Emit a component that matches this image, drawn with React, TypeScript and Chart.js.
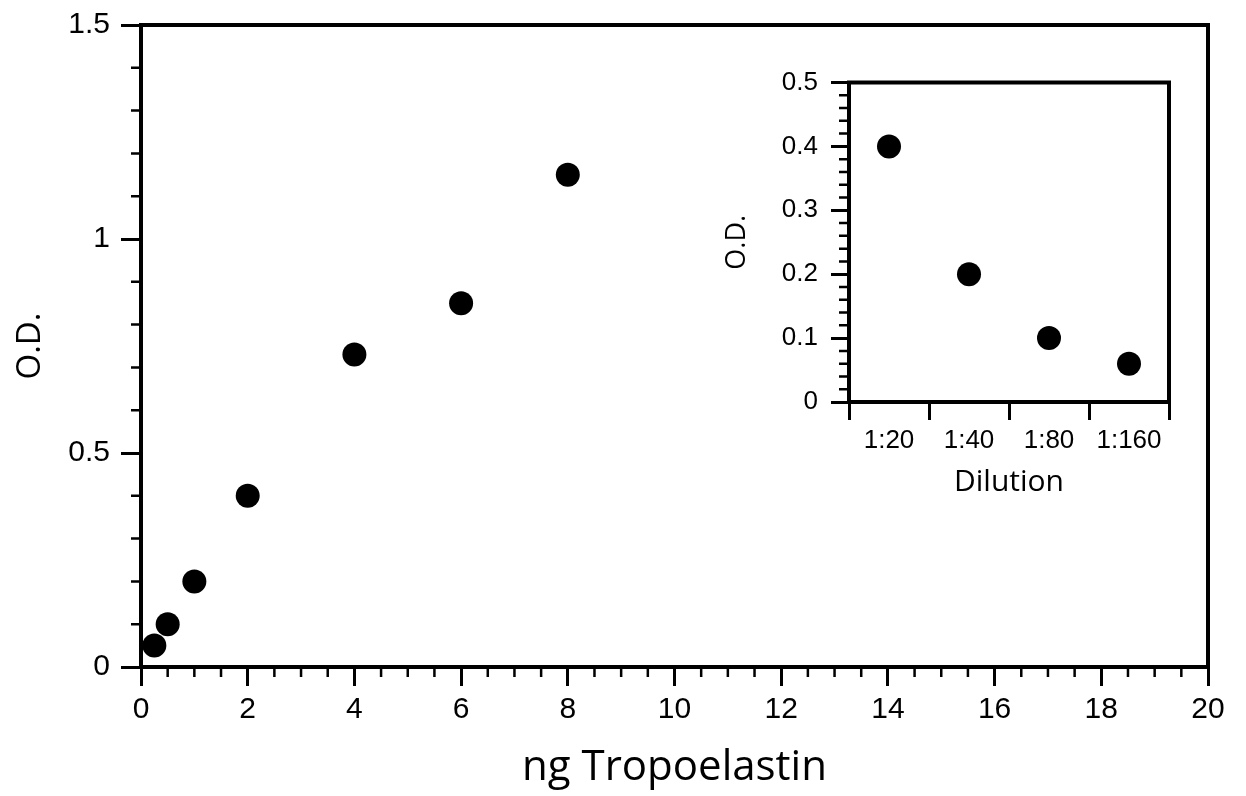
import React, { useEffect, useRef } from 'react';
import { Chart, registerables } from 'chart.js';

Chart.register(...registerables);

// ---- Data ----
const tropoelastinNg = [0.25, 0.5, 1, 2, 4, 6, 8];
const mainOD = [0.05, 0.1, 0.2, 0.4, 0.73, 0.85, 1.15];

const dilutionLabels = ['1:20', '1:40', '1:80', '1:160'];
const insetOD = [0.4, 0.2, 0.1, 0.06];

const mainXRange = [0, 20];
const mainXMajorStep = 2;
const mainXMinorStep = 0.5;
const mainYRange = [0, 1.5];
const mainYMajorStep = 0.5;
const mainYMinorStep = 0.1;

const insetYRange = [0, 0.5];
const insetYMajorStep = 0.1;
const insetYMinorStep = 0.02;

const TICK_FONT = 'Liberation Sans';
const TITLE_FONT = 'Open Sans';

function minorValues(min: number, max: number, minor: number, major: number): number[] {
  const out: number[] = [];
  const n = Math.round((max - min) / minor);
  for (let i = 0; i <= n; i++) {
    const v = min + i * minor;
    const r = v / major;
    if (Math.abs(r - Math.round(r)) > 1e-6) out.push(v);
  }
  return out;
}

const plainNumber = (v: any) => String(Number(Number(v).toFixed(3)));

type MinorCfg = { axis: 'x' | 'y'; values: number[]; len: number; width: number };

function makeFramePlugin(id: string, minors: MinorCfg[], frameWidth: number) {
  return {
    id,
    afterDraw(chart: any) {
      const ctx = chart.ctx as CanvasRenderingContext2D;
      const area = chart.chartArea;
      ctx.save();
      ctx.strokeStyle = '#000';
      ctx.lineCap = 'butt';
      for (const m of minors) {
        const scale = chart.scales[m.axis];
        ctx.lineWidth = m.width;
        ctx.beginPath();
        for (const v of m.values) {
          const p = scale.getPixelForValue(v);
          if (m.axis === 'x') {
            ctx.moveTo(p, area.bottom);
            ctx.lineTo(p, area.bottom + m.len);
          } else {
            ctx.moveTo(area.left, p);
            ctx.lineTo(area.left - m.len, p);
          }
        }
        ctx.stroke();
      }
      ctx.lineWidth = frameWidth;
      ctx.lineJoin = 'miter';
      ctx.strokeRect(area.left, area.top, area.right - area.left, area.bottom - area.top);
      ctx.restore();
    },
  };
}

export default function App() {
  const mainRef = useRef<HTMLCanvasElement | null>(null);
  const insetRef = useRef<HTMLCanvasElement | null>(null);

  useEffect(() => {
    if (!mainRef.current || !insetRef.current) return;

    const mainChart = new Chart(mainRef.current, {
      type: 'scatter',
      data: {
        datasets: [
          {
            data: tropoelastinNg.map((x, i) => ({ x, y: mainOD[i] })),
            backgroundColor: '#000',
            borderColor: '#000',
            pointRadius: 12,
            pointHoverRadius: 12,
            pointBorderWidth: 0,
          },
        ],
      },
      options: {
        responsive: false,
        animation: false,
        layout: { autoPadding: false, padding: { top: 25, right: 38, left: 0, bottom: 0 } },
        plugins: { legend: { display: false }, tooltip: { enabled: false } },
        scales: {
          x: {
            type: 'linear',
            min: mainXRange[0],
            max: mainXRange[1],
            ticks: {
              stepSize: mainXMajorStep,
              font: { family: TICK_FONT, size: 30 },
              color: '#000',
              padding: 6,
              maxRotation: 0,
              callback: plainNumber,
            },
            grid: { drawOnChartArea: false, drawTicks: true, tickLength: 19, tickWidth: 3, tickColor: '#000' },
            border: { display: true, color: '#000', width: 4 },
            title: {
              display: true,
              text: 'ng Tropoelastin',
              font: { family: TITLE_FONT, size: 42 },
              color: '#000',
              padding: { top: 0, bottom: 3 },
            },
            afterFit: (s: any) => {
              s.height = 129;
              s.paddingLeft = 0;
              s.paddingRight = 0;
            },
          },
          y: {
            type: 'linear',
            min: mainYRange[0],
            max: mainYRange[1],
            ticks: {
              stepSize: mainYMajorStep,
              font: { family: TICK_FONT, size: 30 },
              color: '#000',
              padding: 11,
              callback: plainNumber,
            },
            grid: { drawOnChartArea: false, drawTicks: true, tickLength: 20, tickWidth: 3, tickColor: '#000' },
            border: { display: true, color: '#000', width: 4 },
            title: {
              display: true,
              text: 'O.D.',
              font: { family: TITLE_FONT, size: 33 },
              color: '#000',
              padding: { top: 11, bottom: 0 },
            },
            afterFit: (s: any) => {
              s.width = 141;
              s.paddingTop = 0;
              s.paddingBottom = 0;
            },
          },
        },
      },
      plugins: [
        makeFramePlugin(
          'mainFrame',
          [
            { axis: 'x', values: minorValues(mainXRange[0], mainXRange[1], mainXMinorStep, mainXMajorStep), len: 10, width: 2.5 },
            { axis: 'y', values: minorValues(mainYRange[0], mainYRange[1], mainYMinorStep, mainYMajorStep), len: 10, width: 2.5 },
          ],
          4
        ),
      ],
    } as any);

    const insetChart = new Chart(insetRef.current, {
      type: 'line',
      data: {
        labels: dilutionLabels,
        datasets: [
          {
            data: insetOD,
            showLine: false,
            backgroundColor: '#000',
            borderColor: '#000',
            pointRadius: 12,
            pointHoverRadius: 12,
            pointBorderWidth: 0,
          },
        ],
      },
      options: {
        responsive: false,
        animation: false,
        layout: { autoPadding: false, padding: { top: 22.5, right: 31, left: 0, bottom: 0 } },
        plugins: { legend: { display: false }, tooltip: { enabled: false } },
        scales: {
          x: {
            type: 'category',
            offset: true,
            ticks: {
              font: { family: TICK_FONT, size: 26 },
              color: '#000',
              padding: 5,
              maxRotation: 0,
              autoSkip: false,
            },
            grid: { offset: true, drawOnChartArea: false, drawTicks: true, tickLength: 18, tickWidth: 3, tickColor: '#000' },
            border: { display: true, color: '#000', width: 4 },
            title: {
              display: true,
              text: 'Dilution',
              font: { family: TITLE_FONT, size: 30 },
              color: '#000',
              padding: { top: 0, bottom: 0 },
            },
            afterFit: (s: any) => {
              s.height = 98;
              s.paddingLeft = 0;
              s.paddingRight = 0;
            },
          },
          y: {
            type: 'linear',
            min: insetYRange[0],
            max: insetYRange[1],
            ticks: {
              stepSize: insetYMajorStep,
              font: { family: TICK_FONT, size: 26 },
              color: '#000',
              padding: 13,
              callback: plainNumber,
            },
            grid: { drawOnChartArea: false, drawTicks: true, tickLength: 18, tickWidth: 3, tickColor: '#000' },
            border: { display: true, color: '#000', width: 4 },
            title: {
              display: true,
              text: 'O.D.',
              font: { family: TITLE_FONT, size: 27 },
              color: '#000',
              padding: { top: 21, bottom: 0 },
            },
            afterFit: (s: any) => {
              s.width = 149;
              s.paddingTop = 0;
              s.paddingBottom = 0;
            },
          },
        },
      },
      plugins: [
        makeFramePlugin(
          'insetFrame',
          [{ axis: 'y', values: minorValues(insetYRange[0], insetYRange[1], insetYMinorStep, insetYMajorStep), len: 10, width: 2.5 }],
          4
        ),
      ],
    } as any);

    return () => {
      mainChart.destroy();
      insetChart.destroy();
    };
  }, []);

  return (
    <div style={{ position: 'fixed', left: 0, top: 0, width: 1246, height: 796, background: '#fff' }}>
      <canvas
        ref={mainRef}
        width={1246}
        height={796}
        style={{ position: 'absolute', left: 0, top: 0, width: 1246, height: 796, display: 'block' }}
      />
      <canvas
        ref={insetRef}
        width={500}
        height={440}
        style={{ position: 'absolute', left: 700, top: 60, width: 500, height: 440, display: 'block' }}
      />
    </div>
  );
}
